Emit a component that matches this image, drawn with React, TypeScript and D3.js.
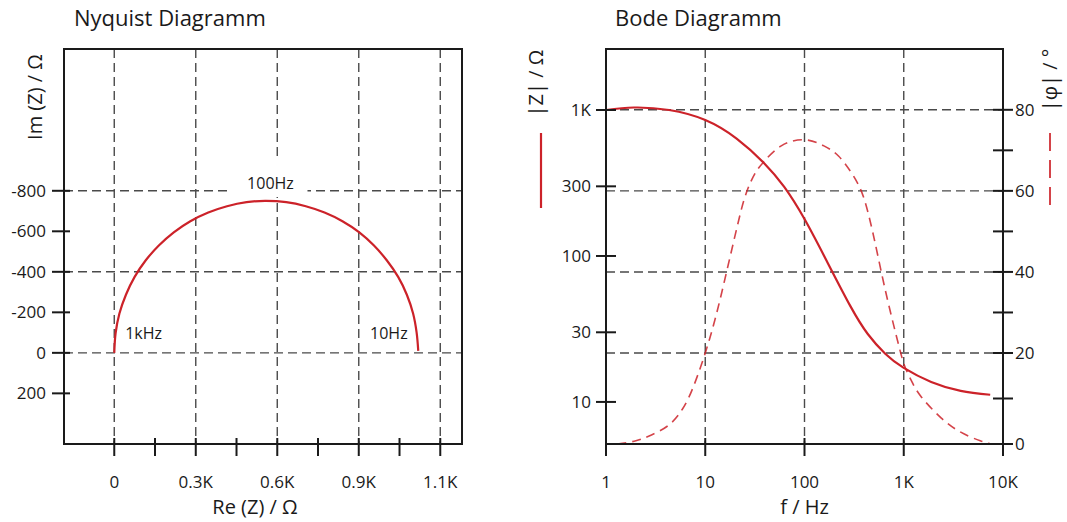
import React from 'react';
import * as d3 from 'd3';

// Nyquist axis ticks
const reTicks = [0, 300, 600, 900, 1200];
const reTickLabels = ['0', '0.3K', '0.6K', '0.9K', '1.1K'];
const reMinorTicks = [150, 450, 750, 1050];
const imTicks = [-800, -600, -400, -200, 0, 200];
const imGrid = [-800, -400, 0];

// Nyquist curve (Re, Im in Ohm)
const nyRe = [0, 5, 19, 43, 75, 116, 164, 219, 280, 346, 415, 487, 555, 633, 705, 774, 840, 902, 956, 1003, 1045, 1077, 1100, 1113, 1119];
const nyIm = [0, -98, -194, -287, -375, -457, -530, -595, -650, -693, -724, -744, -750, -744, -724, -693, -650, -595, -530, -457, -375, -287, -194, -100, -10];

// Bode axis ticks
const fTicks = [1, 10, 100, 1000, 10000];
const fTickLabels = ['1', '10', '100', '1K', '10K'];
const fGrid = [10, 100, 1000];
const zTicks = [1000, 300, 100, 30, 10];
const zTickLabels = ['1K', '300', '100', '30', '10'];
const phTicks = [0, 20, 40, 60, 80];
const phMinor = [10, 30, 50, 70];
const phGrid = [20, 40, 60, 80];

// |Z| over frequency
const zFreq = [1, 1.91, 4.32, 10, 20.7, 39, 62.5, 100, 168, 289, 434, 651, 1000, 1890, 3750, 7430];
const zMag = [1000, 1040, 1000, 854, 637, 434, 297, 179, 92, 45.5, 29.2, 21.4, 17.1, 13.7, 11.9, 11.2];

// |phase| over frequency
const phFreq = [1.3, 2.0, 2.87, 4.32, 5.9, 7.5, 10, 12.9, 16.4, 20.7, 24.4, 28.1, 32.4, 39, 58.3, 100,
  157, 220, 289, 346, 405, 486, 582, 713, 894, 1023, 1200, 1510, 2390, 3750, 5900, 7600];
const phDeg = [0, 0.7, 2.0, 4.2, 7.7, 12.3, 20, 29.4, 40, 50.6, 57.5, 61.7, 64.7, 67.2, 71.1, 72.6,
  71.1, 68.6, 64.9, 61.7, 57.5, 49.9, 41, 31.4, 21.7, 17.1, 13.8, 10.3, 5.7, 2.6, 0.7, 0];

const FONT = '"Open Sans", sans-serif';
const RED = '#cc2229';
const GRID = '#4a4a4a';
const INK = '#1a1a1a';

const NY = { left: 64, top: 49, right: 462, bottom: 444 };
const BD = { left: 606, top: 49, right: 1003, bottom: 444 };

export default function App() {
  // nyquist scales
  const xN = d3.scaleLinear().domain([-185, 1280]).range([NY.left, NY.right]);
  const yN = d3.scaleLinear().domain([-1500, 450]).range([NY.top, NY.bottom]);

  // bode scales
  const xB = d3.scaleLog().domain([1, 10000]).range([BD.left, BD.right]);
  const yZ = d3.scaleLog().domain([5.15, 2618]).range([BD.bottom, BD.top]);
  const h = BD.bottom - BD.top;
  // phase axis in the original is not evenly spaced near zero
  const yP = d3.scaleLinear().domain([0, 20, 95]).range([BD.bottom, BD.bottom - 91, BD.top]);

  const nyLine = d3.line<number>()
    .x((i) => xN(nyRe[i]))
    .y((i) => yN(nyIm[i]))
    .curve(d3.curveCatmullRom.alpha(0.5));

  const zLine = d3.line<number>()
    .x((i) => xB(zFreq[i]))
    .y((i) => yZ(zMag[i]))
    .curve(d3.curveNatural);

  const phLine = d3.line<number>()
    .x((i) => xB(phFreq[i]))
    .y((i) => yP(phDeg[i]))
    .curve(d3.curveNatural);

  const dash = '9,5';
  const tickW = 2;

  const lbl100 = { x: xN(575), y: yN(-800) - 2 };

  return (
    <svg width={1067} height={522} style={{ position: 'absolute', left: 0, top: 0, display: 'block', background: '#fff' }}
      fontFamily={FONT} fill={INK}>
      {/* ---------- Nyquist ---------- */}
      <text x={74} y={26} fontSize={22}>Nyquist Diagramm</text>

      <g stroke={GRID} strokeWidth={1.4} strokeDasharray={dash} fill="none">
        {reTicks.map((v) => (
          <line key={'nv' + v} x1={xN(v)} x2={xN(v)} y1={NY.top} y2={NY.bottom} />
        ))}
        {imGrid.map((v) => (
          <line key={'nh' + v} x1={NY.left} x2={NY.right} y1={yN(v)} y2={yN(v)} />
        ))}
      </g>

      {/* white patch behind the 100Hz note */}
      <rect x={lbl100.x - 41} y={158} width={78} height={39} fill="#fff" />
      <text x={lbl100.x} y={lbl100.y} fontSize={16} textAnchor="middle">100Hz</text>

      <path d={nyLine(d3.range(nyRe.length)) || ''} fill="none" stroke={RED} strokeWidth={2.2} />

      <text x={xN(40)} y={yN(0) - 14} fontSize={16}>1kHz</text>
      <text x={xN(1080)} y={yN(0) - 14} fontSize={16} textAnchor="end">10Hz</text>

      <rect x={NY.left} y={NY.top} width={NY.right - NY.left} height={NY.bottom - NY.top}
        fill="none" stroke={INK} strokeWidth={2} />

      <g stroke={INK} strokeWidth={tickW}>
        {reTicks.concat(reMinorTicks).map((v) => (
          <line key={'nxt' + v} x1={xN(v)} x2={xN(v)} y1={NY.bottom - 6} y2={NY.bottom + 12} />
        ))}
        {imTicks.map((v) => (
          <line key={'nyt' + v} x1={NY.left - 12} x2={NY.left + 6} y1={yN(v)} y2={yN(v)} />
        ))}
      </g>
      {reTicks.map((v, i) => (
        <text key={'nxl' + v} x={xN(v)} y={488} fontSize={17} textAnchor="middle">{reTickLabels[i]}</text>
      ))}
      {imTicks.map((v) => (
        <text key={'nyl' + v} x={46} y={yN(v)} dy="0.36em" fontSize={17} textAnchor="end">{v}</text>
      ))}
      <text x={255} y={514} fontSize={20} textAnchor="middle">Re (Z) / Ω</text>
      <text transform={`translate(42, 97) rotate(-90)`} fontSize={20} textAnchor="middle">Im (Z) / Ω</text>

      {/* ---------- Bode ---------- */}
      <text x={615} y={26} fontSize={22}>Bode Diagramm</text>

      <g stroke={GRID} strokeWidth={1.4} strokeDasharray={dash} fill="none">
        {fGrid.map((v) => (
          <line key={'bv' + v} x1={xB(v)} x2={xB(v)} y1={BD.top} y2={BD.bottom} />
        ))}
        {phGrid.map((v) => (
          <line key={'bh' + v} x1={BD.left} x2={BD.right} y1={yP(v)} y2={yP(v)} />
        ))}
      </g>

      <path d={phLine(d3.range(phFreq.length)) || ''} fill="none" stroke={RED} strokeOpacity={0.85}
        strokeWidth={1.6} strokeDasharray="9,6" />
      <path d={zLine(d3.range(zFreq.length)) || ''} fill="none" stroke={RED} strokeWidth={2.2} />

      <rect x={BD.left} y={BD.top} width={BD.right - BD.left} height={h}
        fill="none" stroke={INK} strokeWidth={2} />

      <g stroke={INK} strokeWidth={tickW}>
        {fTicks.map((v) => (
          <line key={'bxt' + v} x1={xB(v)} x2={xB(v)} y1={BD.bottom - 6} y2={BD.bottom + 12} />
        ))}
        {zTicks.map((v) => (
          <line key={'bzt' + v} x1={BD.left - 10} x2={BD.left + 10} y1={yZ(v)} y2={yZ(v)} />
        ))}
        {phTicks.concat(phMinor).map((v) => (
          <line key={'bpt' + v} x1={BD.right - 10} x2={BD.right + 10} y1={yP(v)} y2={yP(v)} />
        ))}
      </g>
      {fTicks.map((v, i) => (
        <text key={'bxl' + v} x={xB(v)} y={488} fontSize={17} textAnchor="middle">{fTickLabels[i]}</text>
      ))}
      {zTicks.map((v, i) => (
        <text key={'bzl' + v} x={591} y={yZ(v)} dy="0.36em" fontSize={17} textAnchor="end">{zTickLabels[i]}</text>
      ))}
      {phTicks.map((v) => (
        <text key={'bpl' + v} x={1015} y={yP(v)} dy="0.36em" fontSize={17}>{v}</text>
      ))}
      <text x={(BD.left + BD.right) / 2} y={514} fontSize={20} textAnchor="middle">f / Hz</text>

      {/* series keys beside the value axes */}
      <text transform={`translate(543, 83) rotate(-90)`} fontSize={20} textAnchor="middle">|Z| / Ω</text>
      <line x1={541} x2={541} y1={133} y2={208} stroke={RED} strokeWidth={2.2} />
      <text transform={`translate(1057, 80) rotate(-90)`} fontSize={20} textAnchor="middle">|φ| / °</text>
      <line x1={1050} x2={1050} y1={133} y2={205} stroke={RED} strokeOpacity={0.85} strokeWidth={2} strokeDasharray="18,9" />
    </svg>
  );
}
